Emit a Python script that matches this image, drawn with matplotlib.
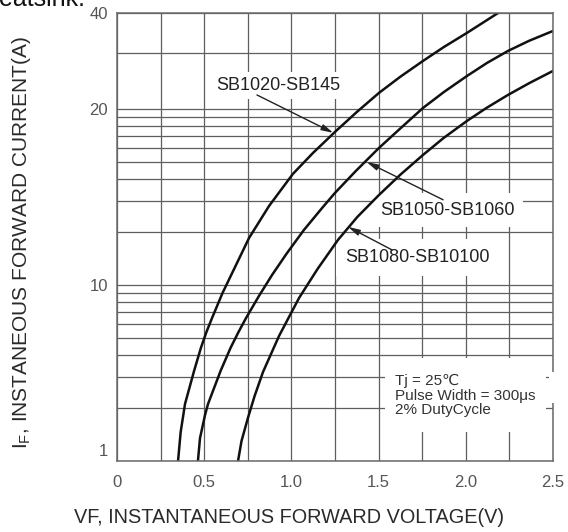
import matplotlib
matplotlib.use("Agg")
import matplotlib.pyplot as plt
import numpy as np
from matplotlib.patches import Rectangle
from matplotlib.transforms import ScaledTranslation

plt.rcParams['font.family'] = ['Liberation Sans', 'DejaVu Sans']

# forward voltage (V) / forward current (A)
vf_1020 = [0.350, 0.365, 0.390, 0.442, 0.481, 0.513, 0.545, 0.605, 0.680, 0.757, 0.872,
           1.009, 1.124, 1.256, 1.376, 1.502, 1.623, 1.755, 1.875, 2.007, 2.185]
if_1020 = [1.0, 1.46, 2.11, 3.25, 4.39, 5.41, 6.49, 9.0, 10.78, 12.03, 13.65,
           15.49, 16.82, 18.34, 19.77, 22.45, 25.2, 28.3, 31.3, 34.65, 40.0]

vf_1050 = [0.464, 0.476, 0.505, 0.522, 0.594, 0.651, 0.697, 0.740, 0.814, 0.889, 0.975,
           1.072, 1.176, 1.250, 1.370, 1.502, 1.628, 1.755, 1.875, 2.007, 2.122, 2.242,
           2.362, 2.5]
if_1050 = [1.0, 1.35, 1.83, 2.11, 3.25, 4.39, 5.41, 6.49, 8.66, 10.4, 11.34,
           12.42, 13.54, 14.37, 15.67, 17.15, 18.56, 20.15, 22.61, 25.38, 27.89, 30.41,
           32.7, 35.13]

vf_1080 = [0.694, 0.714, 0.751, 0.789, 0.837, 0.929, 1.044, 1.150, 1.267, 1.378, 1.502,
           1.623, 1.755, 1.873, 2.007, 2.119, 2.242, 2.366, 2.5]
if_1080 = [1.0, 1.30, 1.76, 2.34, 3.20, 5.13, 8.44, 10.65, 11.94, 13.07, 14.25,
           15.42, 16.69, 17.84, 19.08, 20.15, 22.13, 24.13, 26.32]

curve_names = ['SB1020-SB145', 'SB1050-SB1060', 'SB1080-SB10100']
x_ticks = [0, 0.5, 1.0, 1.5, 2.0, 2.5]
x_ticklabels = ['0', '0.5', '1.0', '1.5', '2.0', '2.5']
y_ticks = [1, 10, 20, 40]
y_ticklabels = ['1', '10', '20', '40']

# the printed y axis is not one log scale: 1-10 and 10-20 each take a full
# decade of the paper, 20-40 takes the part left at the top
TOP = 0.545


def fwd(v):
    v = np.clip(np.asarray(v, dtype=float), 1e-6, None)
    with np.errstate(all='ignore'):
        return np.where(v <= 10, np.log10(v),
                        np.where(v <= 20, 1 + np.log2(v / 10), 2 + TOP * np.log2(v / 20)))


def inv(u):
    u = np.clip(np.asarray(u, dtype=float), -10, 10)
    with np.errstate(all='ignore'):
        return np.where(u <= 1, 10.0 ** u,
                        np.where(u <= 2, 10 * 2.0 ** (u - 1), 20 * 2.0 ** ((u - 2) / TOP)))


fig = plt.figure(figsize=(5.68, 5.32), dpi=100)
ax = fig.add_axes([0.206, 0.1335, 0.7676, 0.8421])
ax.set_yscale('function', functions=(fwd, inv))
ax.set_xlim(0, 2.5)
ax.set_ylim(1, 40)

# grid lines of the log paper
k = np.arange(2, 10)
minor_y = list(k) + list(inv(1 + np.log10(k))) + [30]
ax.set_xticks(x_ticks)
ax.set_xticklabels(x_ticklabels)
ax.set_xticks(np.arange(0.25, 2.5, 0.5), minor=True)
ax.set_yticks(y_ticks)
ax.set_yticklabels(y_ticklabels)
ax.set_yticks(minor_y, minor=True)
ax.set_yticklabels([], minor=True)
ax.set_axisbelow(True)
ax.grid(which='both', color='#5e5e5e', lw=0.9)
ax.tick_params(which='both', length=0, labelsize=12, labelcolor='#555555')
ax.tick_params(axis='x', pad=10)
ax.tick_params(axis='y', pad=6.5)
for s in ax.spines.values():
    s.set_color('#6a6a6a')
    s.set_linewidth(1.1)

lab = ax.get_yticklabels()[0]
lab.set_transform(lab.get_transform() + ScaledTranslation(0, 0.11, fig.dpi_scale_trans))

ax.plot(vf_1020, if_1020, color='#111111', lw=1.8, zorder=2)
ax.plot(vf_1050, if_1050, color='#111111', lw=1.8, zorder=2)
ax.plot(vf_1080, if_1080, color='#111111', lw=1.8, zorder=2)

# white-out behind the test conditions
ax.add_patch(Rectangle((0.615, 0.065), 0.369, 0.165, transform=ax.transAxes,
                       facecolor='white', edgecolor='none', zorder=1))
ax.add_patch(Rectangle((0.99, 0.129), 0.03, 0.07, transform=ax.transAxes,
                       facecolor='white', edgecolor='none', zorder=3, clip_on=False))
ax.text(0.638, 0.195, 'Tj = 25\u2103\nPulse Width = 300\u03bcs\n2% DutyCycle',
        transform=ax.transAxes, ha='left', va='top', fontsize=11, color='#333333',
        linespacing=1.08, zorder=4)

# curve labels with arrows
tips = [(1.24, 18.2), (1.431, 16.23), (1.325, 12.57)]
tails = [(0.321, 0.817), (0.748, 0.583), (0.631, 0.471)]
text_pos = [(0.369, 0.839), (0.757, 0.560), (0.690, 0.455)]
pads = [0.3, 0.5, 0.6]
for name, tip, tail, tp, pd in zip(curve_names, tips, tails, text_pos, pads):
    ax.text(tp[0], tp[1], name, transform=ax.transAxes, ha='center', va='center',
            fontsize=13, color='#222222', zorder=1.5,
            bbox=dict(facecolor='white', edgecolor='none', pad=pd * 12))
    ax.annotate('', xy=tip, xycoords='data', xytext=tail, textcoords='axes fraction',
                arrowprops=dict(arrowstyle='-|>,head_length=0.7,head_width=0.18',
                                color='#222222', lw=1.0, shrinkA=0, shrinkB=0),
                zorder=3)

ax.set_xlabel('VF, INSTANTANEOUS FORWARD VOLTAGE(V)', fontsize=14.3, color='#2a2a2a', va='center')
ax.xaxis.set_label_coords(0.394, -0.127)
ax.set_ylabel(r'$\mathregular{I_F}$, INSTANEOUS FORWARD CURRENT(A)', fontsize=15,
              color='#2a2a2a', va='center')
ax.yaxis.set_label_coords(-0.218, 0.487)

fig.text(-0.002, 1 - 6 / 532, 'eatsink.', fontsize=18, color='#111111', va='baseline', ha='left')

fig.savefig('out.png', dpi=100)
